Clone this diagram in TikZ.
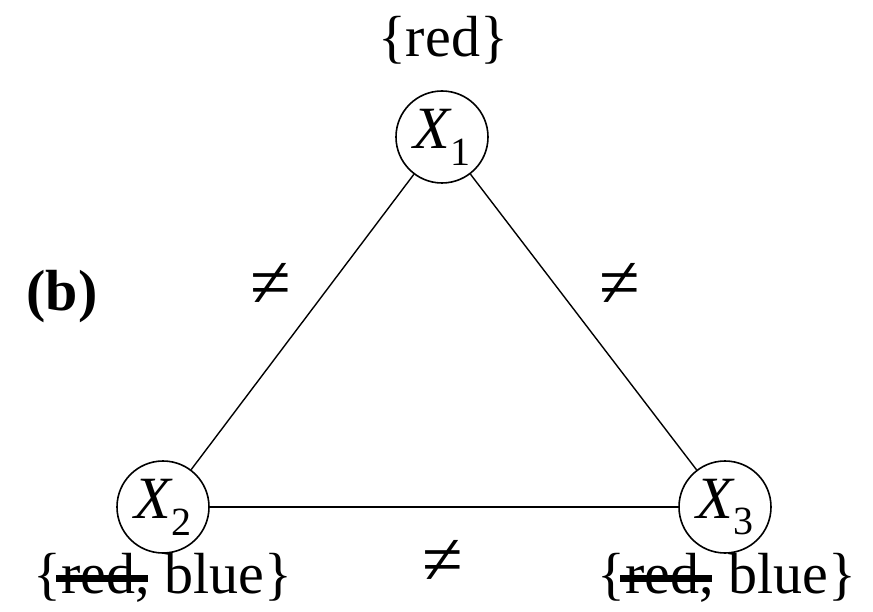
\documentclass[tikz,border=0pt]{standalone}
\usepackage{fontspec}
\setmainfont{Liberation Serif}
\newlength\strikelen
\newcommand\strikeword[1]{\settowidth\strikelen{#1}\makebox[0pt][l]{\hspace{-0.1em}\rule[0.2em]{\dimexpr\strikelen+0.32em\relax}{0.13em}}#1}
\newcommand\varlabel[1]{{\itshape X}\raisebox{-0.28em}{\fontsize{40}{48}\selectfont #1}}
\tikzset{
  var/.style={draw, circle, line width=1.6pt, minimum size=92pt, inner sep=0pt, font=\fontsize{60}{72}\selectfont},
  dom/.style={font=\fontsize{58}{70}\selectfont, inner sep=0pt},
  neq/.style={font=\fontsize{74}{88}\selectfont, inner sep=0pt},
  edge/.style={line width=1.4pt}
}
\begin{document}
\begin{tikzpicture}[x=1pt,y=-1pt]
\useasboundingbox (0,0) rectangle (873,612);
\node[var] (x1) at (442,137) {\varlabel{1}};
\node[var] (x2) at (163,507) {\varlabel{2}};
\node[var] (x3) at (725,507) {\varlabel{3}};
\draw[edge] (x1) -- (x2);
\draw[edge] (x1) -- (x3);
\draw[edge] (x2) -- (x3);
\node[dom] (d1) at (443,40) {\{red\}};
\node[dom] (d2) at (163,578) {\{\strikeword{red}, blue\}};
\node[dom] (d3) at (727,578) {\{\strikeword{red}, blue\}};
\node[neq] (n12) at (271,285) {≠};
\node[neq] (n13) at (620,285) {≠};
\node[neq] (n23) at (443,562) {≠};
\node[dom, font=\fontsize{58}{70}\selectfont\bfseries] (lab) at (62,297) {(b)};
\end{tikzpicture}
\end{document}
